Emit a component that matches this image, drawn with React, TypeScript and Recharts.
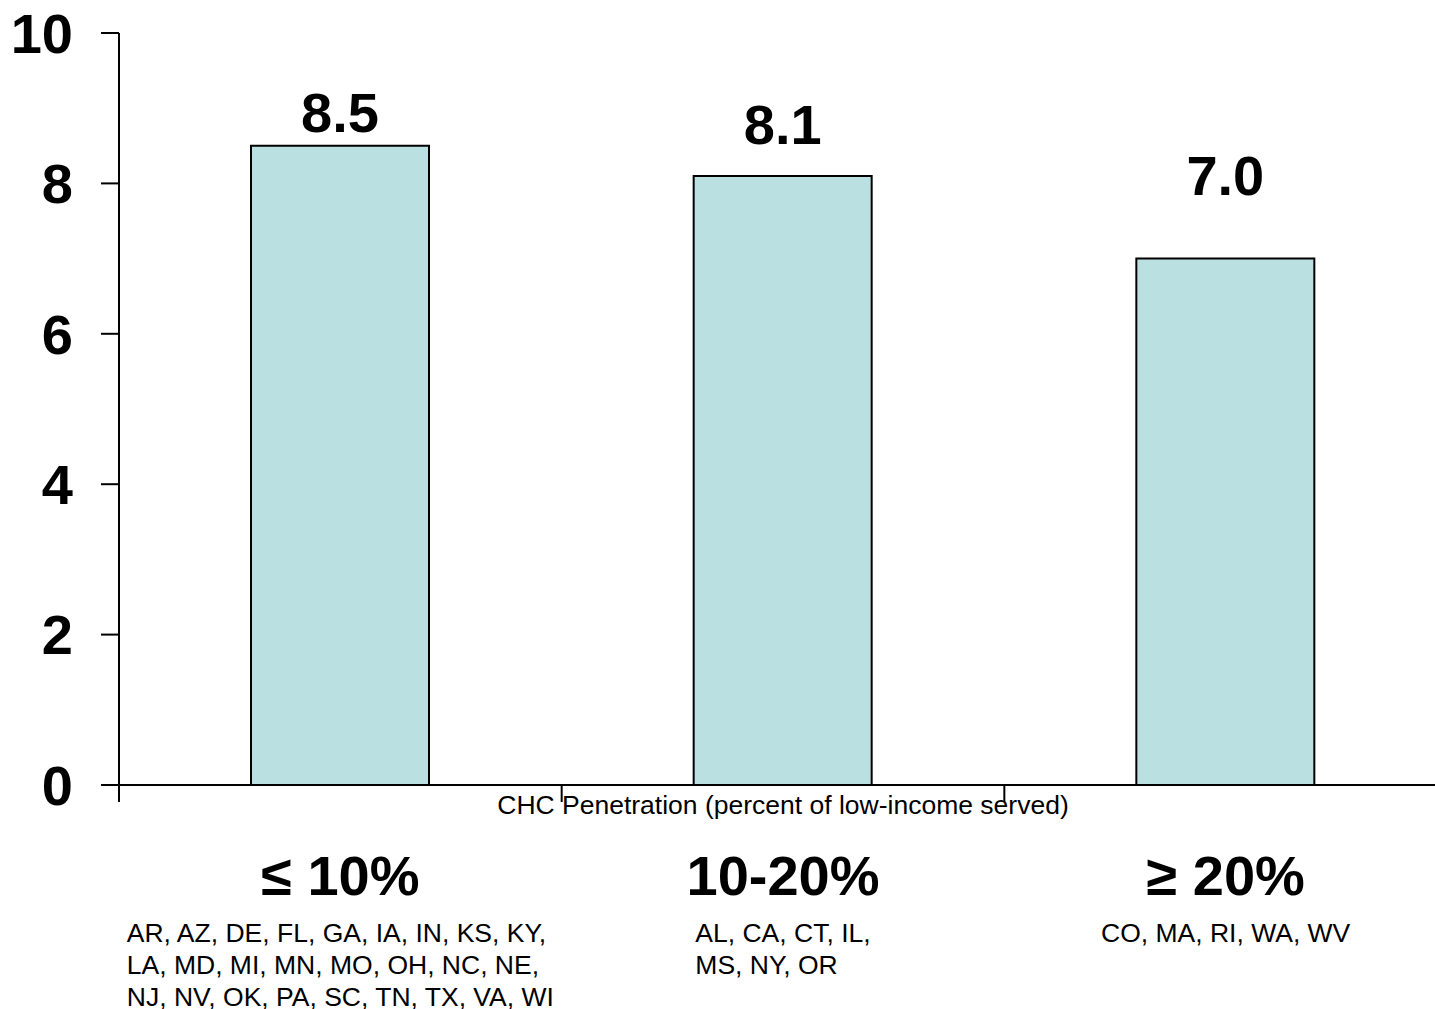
import React from "react";
import { BarChart, Bar, XAxis, YAxis, LabelList, Label } from "recharts";

const categories = ["≤ 10%", "10-20%", "≥ 20%"];
const penetrationValues = [8.5, 8.1, 7.0];
const stateLines = [
    ["AR, AZ, DE, FL, GA, IA, IN, KS, KY,", "LA, MD, MI, MN, MO, OH, NC, NE,", "NJ, NV, OK, PA, SC, TN, TX, VA, WI"],
    ["AL, CA, CT, IL,", "MS, NY, OR"],
    ["CO, MA, RI, WA, WV"],
];
const yTicks = [0, 2, 4, 6, 8, 10];
const axisTitle = "CHC Penetration (percent of low-income served)";

const data = categories.map((c, i) => ({ name: c, value: penetrationValues[i], states: stateLines[i] }));

const CHART_W = 1450;
const CHART_H = 1009;
const Y_W = 119;
const M = { top: 33, right: 3, left: 0, bottom: 0 };
const BAND = (CHART_W - M.left - M.right - Y_W) / categories.length;
const FONT = "'Liberation Sans', Arial, Helvetica, sans-serif";
// space between bar top and label baseline, as in the original slide
const labelGaps = [14, 32, 64];

const CategoryTick = (props: any) => {
    const { x, y, index } = props;
    const lines = data[index].states;
    return (
        <g>
            <line x1={x - BAND / 2} y1={y} x2={x - BAND / 2} y2={y + 17} stroke="#000" strokeWidth={2} />
            <text x={x} y={y + 110} textAnchor="middle" fontSize={56} fontWeight="bold" fill="#000" fontFamily={FONT}>
                {data[index].name}
            </text>
            <foreignObject x={x - BAND / 2} y={y + 132} width={BAND} height={CHART_H - y - 132} style={{ overflow: "visible" }}>
                <div style={{ textAlign: "center", fontFamily: FONT, fontSize: 26.5, lineHeight: "32px", color: "#000" }}>
                    <div style={{ display: "inline-block", textAlign: "left", whiteSpace: "nowrap" }}>
                        {lines.map((l: string, i: number) => <div key={i}>{l}</div>)}
                    </div>
                </div>
            </foreignObject>
        </g>
    );
};

const ValueLabel = (props: any) => {
    const { x, y, width, value, index } = props;
    return (
        <text x={x + width / 2} y={y - labelGaps[index]} textAnchor="middle" fontSize={56} fontWeight="bold" fill="#000" fontFamily={FONT}>
            {Number(value).toFixed(1)}
        </text>
    );
};

const App: React.FC = () => {
    return (
        <div style={{ position: "absolute", left: 0, top: 0, width: 1435, height: 1009, overflow: "hidden", background: "#fff" }}>
            <BarChart width={CHART_W} height={CHART_H} data={data} margin={M} style={{ fontFamily: FONT }}>
                <XAxis
                    dataKey="name"
                    height={CHART_H - M.top - 752}
                    axisLine={{ stroke: "#000", strokeWidth: 2 }}
                    tickLine={false}
                    tickSize={0}
                    tickMargin={0}
                    interval={0}
                    tick={<CategoryTick />}
                >
                    <Label value={axisTitle} position="insideTop" offset={10} fontSize={26.5} fill="#000" fontFamily={FONT} />
                </XAxis>
                <YAxis
                    width={Y_W}
                    domain={[0, 10]}
                    ticks={yTicks}
                    interval={0}
                    axisLine={{ stroke: "#000", strokeWidth: 2 }}
                    tickLine={{ stroke: "#000", strokeWidth: 2 }}
                    tickSize={18}
                    tickMargin={28}
                    tick={{ fontSize: 56, fontWeight: "bold", fill: "#000", fontFamily: FONT }}
                />
                <Bar dataKey="value" barSize={178} fill="#BAE0E2" stroke="#000" strokeWidth={2} isAnimationActive={false}>
                    <LabelList dataKey="value" content={<ValueLabel />} />
                </Bar>
            </BarChart>
        </div>
    );
};

export default App;
